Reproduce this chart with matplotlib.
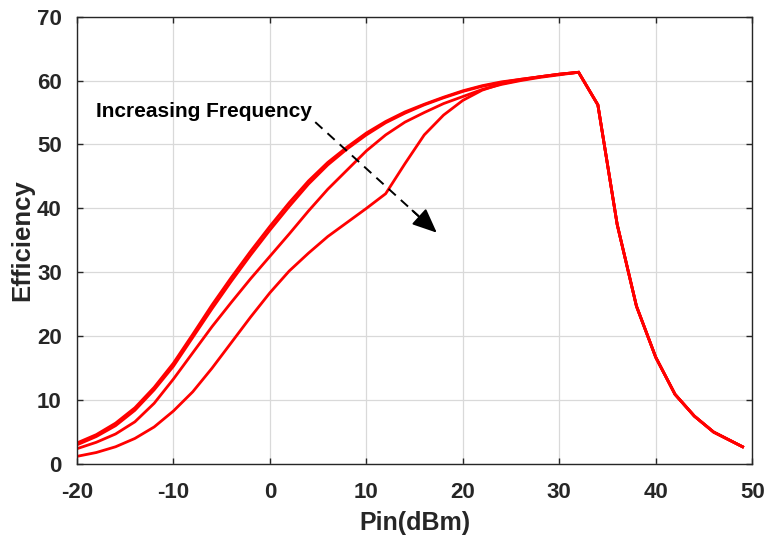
import matplotlib
matplotlib.use("Agg")
import matplotlib.pyplot as plt
import numpy as np

plt.rcParams['font.family'] = ['Liberation Sans', 'DejaVu Sans']
plt.rcParams['axes.unicode_minus'] = False

# Input power (dBm)
pin = [-20, -18, -16, -14, -12, -10, -8, -6, -4, -2, 0, 2, 4, 6, 8, 10, 12, 14, 16,
       18, 20, 22, 24, 26, 28, 30, 32, 34, 36, 38, 40, 42, 44, 46, 49]

# Shared roll-off beyond saturation
tail = [56.2, 37.5, 24.7, 16.7, 10.9, 7.5, 5.0, 2.7]

eff_f1 = [3.3, 4.6, 6.4, 8.8, 12.0, 15.8, 20.3, 24.9, 29.2, 33.3, 37.2, 40.9, 44.3, 47.2,
          49.6, 51.8, 53.6, 55.1, 56.3, 57.4, 58.4, 59.2, 59.8, 60.2, 60.6, 61.0, 61.3] + tail
eff_f2 = [3.0, 4.3, 6.0, 8.4, 11.6, 15.3, 19.8, 24.3, 28.6, 32.7, 36.6, 40.3, 43.8, 46.8,
          49.3, 51.5, 53.4, 54.9, 56.2, 57.3, 58.3, 59.1, 59.7, 60.2, 60.6, 61.0, 61.3] + tail
eff_f3 = [2.4, 3.4, 4.7, 6.6, 9.5, 13.3, 17.4, 21.5, 25.3, 29.0, 32.5, 36.0, 39.6, 43.0,
          46.0, 49.0, 51.5, 53.5, 55.0, 56.4, 57.5, 58.6, 59.4, 60.0, 60.5, 60.9, 61.3] + tail
eff_f4 = [1.2, 1.8, 2.7, 4.0, 5.8, 8.3, 11.3, 15.0, 19.0, 23.0, 26.8, 30.2, 33.0, 35.6,
          37.8, 40.0, 42.3, 47.0, 51.5, 54.6, 56.9, 58.5, 59.5, 60.1, 60.6, 61.0, 61.3] + tail

x_ticks = [-20, -10, 0, 10, 20, 30, 40, 50]
y_ticks = [0, 10, 20, 30, 40, 50, 60, 70]

fig = plt.figure(figsize=(7.66, 5.38), dpi=100)
ax = fig.add_axes([0.1005, 0.1375, 0.8815, 0.8315])

for eff in (eff_f1, eff_f2, eff_f3, eff_f4):
    ax.plot(pin, eff, color='#ff0000', lw=2.0, solid_joinstyle='miter')

ax.set_xlim(-20, 50)
ax.set_ylim(0, 70)
ax.set_xticks(x_ticks)
ax.set_yticks(y_ticks)
ax.grid(True, color='#d9d9d9', lw=0.9)
ax.set_axisbelow(True)

dark = '#262626'
for s in ax.spines.values():
    s.set_color(dark)
    s.set_linewidth(1.0)
ax.tick_params(direction='in', length=4, width=1.0, color=dark, top=True, right=True,
               labelsize=16, labelcolor=dark)
ax.tick_params(axis='x', pad=13)
ax.tick_params(axis='y', pad=11)
for lab in ax.get_xticklabels() + ax.get_yticklabels():
    lab.set_fontweight('bold')

ax.set_xlabel('Pin(dBm)', fontsize=18, fontweight='bold', color=dark, labelpad=6)
ax.set_ylabel('Efficiency', fontsize=18.5, fontweight='bold', color=dark, labelpad=2)

ax.text(-18.0, 55.2, 'Increasing Frequency', fontsize=15, fontweight='bold',
        color='black', va='center', ha='left')

# dashed arrow
x0, y0 = 4.7, 53.5
x1, y1 = 17.3, 36.2
ax.plot([x0, x0 + 0.85 * (x1 - x0)], [y0, y0 + 0.85 * (y1 - y0)], color='black',
        lw=1.4, dashes=(5, 3.5))
ax.annotate('', xy=(x1, y1), xytext=(x0 + 0.8 * (x1 - x0), y0 + 0.8 * (y1 - y0)),
            arrowprops=dict(arrowstyle='-|>,head_length=1.5,head_width=0.65',
                            color='black', lw=1.4, shrinkA=0, shrinkB=0))

fig.savefig('out.png', dpi=100, facecolor='white')
